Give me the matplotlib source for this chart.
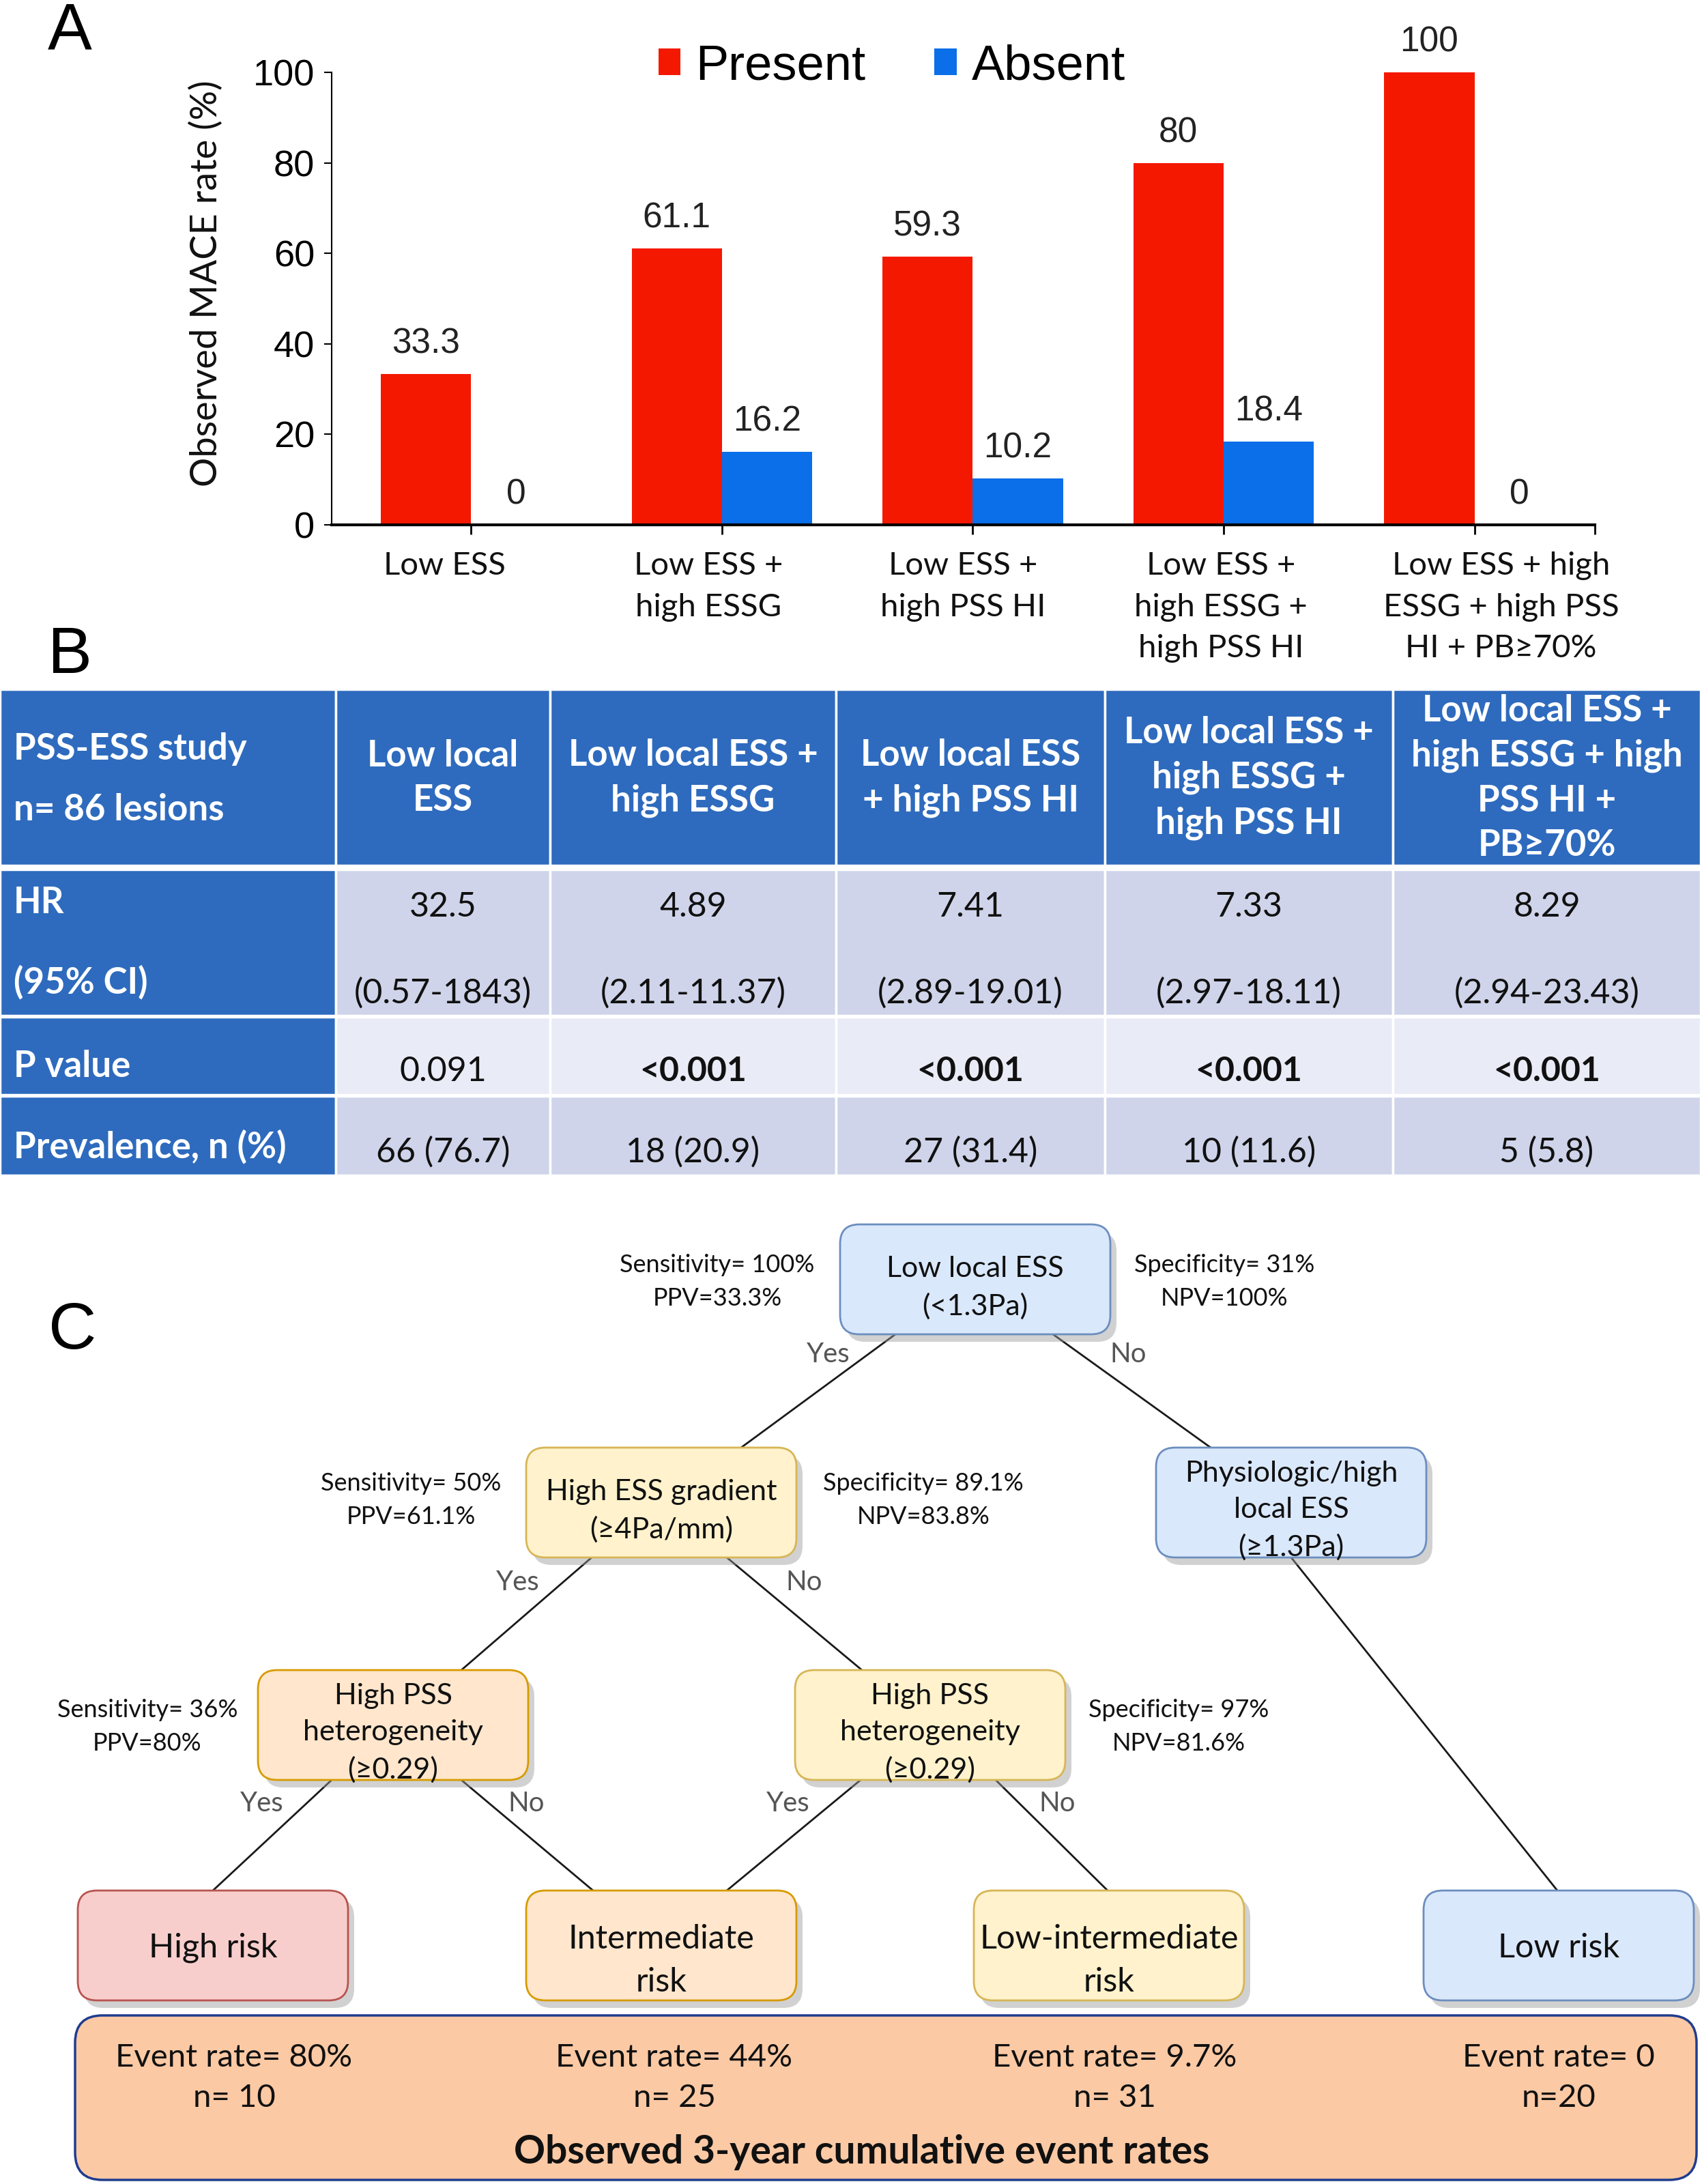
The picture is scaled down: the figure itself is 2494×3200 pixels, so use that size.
import numpy as np
import matplotlib.pyplot as plt
from matplotlib.patches import FancyBboxPatch, Rectangle

# ---------------- data ----------------
groups = ['Low ESS', 'Low ESS +\nhigh ESSG', 'Low ESS +\nhigh PSS HI',
          'Low ESS +\nhigh ESSG +\nhigh PSS HI', 'Low ESS + high\nESSG + high PSS\nHI + PB≥70%']
present = [33.3, 61.1, 59.3, 80, 100]
absent = [0, 16.2, 10.2, 18.4, 0]

row_heads = [('PSS-ESS study', 'n= 86 lesions'), ('HR', '(95% CI)'), ('P value',), ('Prevalence, n (%)',)]
col_heads = ['Low local\nESS', 'Low local ESS +\nhigh ESSG', 'Low local ESS\n+ high PSS HI',
             'Low local ESS +\nhigh ESSG +\nhigh PSS HI', 'Low local ESS +\nhigh ESSG + high\nPSS HI +\nPB≥70%']
hr = ['32.5', '4.89', '7.41', '7.33', '8.29']
ci = ['(0.57-1843)', '(2.11-11.37)', '(2.89-19.01)', '(2.97-18.11)', '(2.94-23.43)']
pval = ['0.091', '<0.001', '<0.001', '<0.001', '<0.001']
prev = ['66 (76.7)', '18 (20.9)', '27 (31.4)', '10 (11.6)', '5 (5.8)']

node_text = {
    'root': 'Low local ESS\n(<1.3Pa)',
    'essg': 'High ESS gradient\n(≥4Pa/mm)',
    'phys': 'Physiologic/high\nlocal ESS\n(≥1.3Pa)',
    'pssL': 'High PSS\nheterogeneity\n(≥0.29)',
    'pssR': 'High PSS\nheterogeneity\n(≥0.29)',
    'high': 'High risk',
    'inter': 'Intermediate\nrisk',
    'lowint': 'Low-intermediate\nrisk',
    'low': 'Low risk',
}
edges = [('root', 'essg', 'Yes'), ('root', 'phys', 'No'),
         ('essg', 'pssL', 'Yes'), ('essg', 'pssR', 'No'),
         ('phys', 'low', ''),
         ('pssL', 'high', 'Yes'), ('pssL', 'inter', 'No'),
         ('pssR', 'inter', 'Yes'), ('pssR', 'lowint', 'No')]
stats = {
    'root': ('Sensitivity= 100%\nPPV=33.3%', 'Specificity= 31%\nNPV=100%'),
    'essg': ('Sensitivity= 50%\nPPV=61.1%', 'Specificity= 89.1%\nNPV=83.8%'),
    'pssL': ('Sensitivity= 36%\nPPV=80%', None),
    'pssR': (None, 'Specificity= 97%\nNPV=81.6%'),
}
event_rates = ['80%', '44%', '9.7%', '0']
event_n = ['10', '25', '31', '20']

# ---------------- layout (pixels of the 2494x3200 canvas) ----------------
W, H = 2494, 3200
narrow = ['Liberation Sans Narrow', 'Liberation Sans', 'DejaVu Sans']
gill = ['Lato', 'DejaVu Sans']
red, blue = '#F51800', '#0A6FE8'

fig = plt.figure(figsize=(W / 100, H / 100), dpi=100)

# ---- panel A ----
ax = fig.add_axes([486 / W, 1 - 769 / H, (2337 - 486) / W, (769 - 106) / H])
x = np.arange(len(groups))
bw = 0.36
b1 = ax.bar(x - bw / 2, present, bw, color=red, label='Present')
b2 = ax.bar(x + bw / 2, absent, bw, color=blue, label='Absent')
for b in (b1, b2):
    ax.bar_label(b, fmt='%g', padding=14, fontsize=37, family=narrow, color='#222222',
                 annotation_clip=False)
ax.set_ylim(0, 100)
ax.set_xlim(-0.556, 4.48)
ax.set_yticks([0, 20, 40, 60, 80, 100])
ax.set_xticks(x)
ax.set_xticklabels([])
ax.set_xticks([4.48], minor=True)
# category labels, each nudged sideways a little as in the original (points)
label_shift = [-28, -14, -10, -3, 28]
for xi, g, dx in zip(x, groups, label_shift):
    ax.annotate(g, xy=(xi, 0), xycoords=('data', 'axes fraction'), xytext=(dx, -28),
                textcoords='offset points', ha='center', va='top', family=gill,
                fontsize=34, linespacing=1.55, color='#111111', annotation_clip=False)
for lab in ax.get_yticklabels():
    lab.set_family(narrow)
    lab.set_fontsize(39)
ax.tick_params(axis='y', length=8, width=1.5, pad=10)
ax.tick_params(axis='x', which='both', length=10, width=2, pad=18)
ax.spines['top'].set_visible(False)
ax.spines['right'].set_visible(False)
ax.spines['bottom'].set_linewidth(3)
ax.spines['left'].set_linewidth(1.5)
ax.set_ylabel('Observed MACE rate (%)', family=gill, fontsize=39, color='#111111')
ax.yaxis.set_label_coords(-0.086, 0.534)
fig.legend(handles=[b1, b2], loc='center', bbox_to_anchor=(0.524, 1 - 98 / H), ncol=2,
           frameon=False, prop={'family': narrow, 'size': 52}, handlelength=0.45,
           handleheight=0.45, handletextpad=0.3, columnspacing=1.4)

# ---- overlay for panel labels, table and tree ----
ov = fig.add_axes([0, 0, 1, 1])
ov.set_xlim(0, W)
ov.set_ylim(H, 0)
ov.axis('off')

for letter, (lx, ly) in zip('ABC', [(102, 46), (102, 961), (106, 1951)]):
    ov.text(lx, ly, letter, fontsize=70, family=['Liberation Sans', 'DejaVu Sans'],
            ha='center', va='center')

# ---- panel B: table ----
col_x = [0, 492, 806, 1225, 1619, 2041, 2492]
row_y = [(1010, 1268), (1274, 1488), (1490, 1604), (1606, 1722)]
hdr_blue, light, lighter = '#2E6BBE', '#CFD4EA', '#E9EBF6'
row_fill = [hdr_blue, light, lighter, light]
for r, (y0, y1) in enumerate(row_y):
    for c in range(6):
        fc = hdr_blue if c == 0 else row_fill[r]
        ov.add_patch(Rectangle((col_x[c], y0), col_x[c + 1] - col_x[c], y1 - y0,
                               facecolor=fc, edgecolor='white', lw=2.5))

lab_y = [(1098, 1186), (1323, 1439), (1563,), (1680,)]
for heads, ys in zip(row_heads, lab_y):
    for t, yy in zip(heads, ys):
        ov.text(20, yy, t, color='white', fontsize=38, family=gill, weight='bold',
                ha='left', va='center')

col_cx = [(col_x[i] + col_x[i + 1]) / 2 for i in range(1, 6)]
for i, cx in enumerate(col_cx):
    ov.text(cx, 1140, col_heads[i], color='white', fontsize=38, family=gill, weight='bold',
            ha='center', va='center', linespacing=1.42)
    ov.text(cx, 1329, hr[i], fontsize=36, family=gill, ha='center', va='center', color='#111111')
    ov.text(cx, 1455, ci[i], fontsize=36, family=gill, ha='center', va='center', color='#111111')
    ov.text(cx, 1570, pval[i], fontsize=36, family=gill, ha='center', va='center', color='#111111',
            weight='normal' if pval[i][0] != '<' else 'bold')
    ov.text(cx, 1688, prev[i], fontsize=36, family=gill, ha='center', va='center', color='#111111')

# ---- panel C: tree ----
styles = {
    'blue': ('#DAE8FC', '#6C8EBF'),
    'yellow': ('#FFF2CC', '#D6B656'),
    'orange': ('#FFE6CC', '#D79B00'),
    'red': ('#F8CECC', '#B85450'),
}
node_box = {  # x0, y0, style
    'root': (1231, 1794, 'blue'), 'essg': (771, 2121, 'yellow'), 'phys': (1694, 2121, 'blue'),
    'pssL': (378, 2447, 'orange'), 'pssR': (1165, 2447, 'yellow'),
    'high': (114, 2770, 'red'), 'inter': (771, 2770, 'orange'),
    'lowint': (1427, 2770, 'yellow'), 'low': (2086, 2770, 'blue'),
}
bw_px, bh_px = 396, 161
edge_x = {  # start x on parent bottom, end x on child top
    ('root', 'essg'): (1312, 1086), ('root', 'phys'): (1543, 1774),
    ('essg', 'pssL'): (867, 676), ('essg', 'pssR'): (1065, 1263),
    ('phys', 'low'): (1892, 2282),
    ('pssL', 'high'): (486, 312), ('pssL', 'inter'): (676, 869),
    ('pssR', 'inter'): (1261, 1065), ('pssR', 'lowint'): (1459, 1623),
}
edge_lab = {
    ('root', 'essg'): (1214, 1984), ('root', 'phys'): (1653, 1984),
    ('essg', 'pssL'): (759, 2319), ('essg', 'pssR'): (1178, 2319),
    ('pssL', 'high'): (384, 2643), ('pssL', 'inter'): (771, 2643),
    ('pssR', 'inter'): (1155, 2643), ('pssR', 'lowint'): (1549, 2643),
}
for p, ch, lab in edges:
    xs, xe = edge_x[(p, ch)]
    ys = node_box[p][1] + bh_px
    ye = node_box[ch][1]
    ov.plot([xs, xe], [ys, ye], color='#1a1a1a', lw=2, zorder=1)
    if lab:
        lx, ly = edge_lab[(p, ch)]
        ov.text(lx, ly, lab, fontsize=29, family=gill, color='#555555', ha='center', va='center')

for key, (x0, y0, st) in node_box.items():
    fc, ec = styles[st]
    ov.add_patch(FancyBboxPatch((x0 + 9, y0 + 11), bw_px, bh_px,
                                boxstyle='round,pad=0,rounding_size=28',
                                facecolor='#9a9a9a', edgecolor='none', alpha=0.45, zorder=2))
    ov.add_patch(FancyBboxPatch((x0, y0), bw_px, bh_px, boxstyle='round,pad=0,rounding_size=28',
                                facecolor=fc, edgecolor=ec, lw=2, zorder=3))
    big = key in ('high', 'inter', 'lowint', 'low')
    two_line = '\n' in node_text[key]
    dy = (22 if two_line else 3) if big else 12
    ov.text(x0 + bw_px / 2, y0 + bh_px / 2 + dy, node_text[key],
            fontsize=35 if big else 31, family=gill, ha='center', va='center',
            linespacing=1.55 if big else 1.5, color='#111111', zorder=4)

stat_pos = {
    'root': ((1051, 1878), (1794, 1878)),
    'essg': ((602, 2198), (1353, 2198)),
    'pssL': ((216, 2530), None),
    'pssR': (None, (1727, 2530)),
}
for key, (left, right) in stats.items():
    for txt, pos in zip((left, right), stat_pos[key]):
        if txt:
            ov.text(pos[0], pos[1], txt, fontsize=26, family=gill, ha='center', va='center',
                    linespacing=1.6, color='#111111')

# bottom summary box
ov.add_patch(FancyBboxPatch((110, 2953), 2376, 241, boxstyle='round,pad=0,rounding_size=40',
                            facecolor='#FBC9A4', edgecolor='#1F3C8F', lw=2.5, zorder=3))
for i, cx in enumerate([343, 988, 1633, 2284]):
    ov.text(cx, 3015, 'Event rate= ' + event_rates[i], fontsize=34, family=gill,
            ha='center', va='center', color='#111111', zorder=4)
    sep = '' if i == 3 else ' '
    ov.text(cx, 3074, 'n=' + sep + event_n[i], fontsize=34, family=gill,
            ha='center', va='center', color='#111111', zorder=4)
ov.text(1263, 3153, 'Observed 3-year cumulative event rates', fontsize=41, family=gill,
        weight='bold', ha='center', va='center', color='#111111', zorder=4)

fig.savefig('out.png', dpi=100)
